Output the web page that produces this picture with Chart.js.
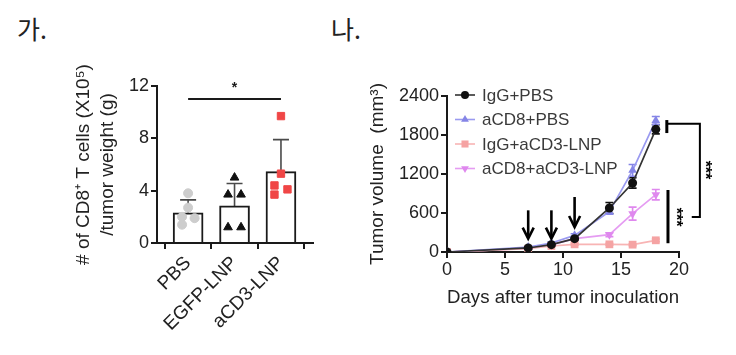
<!DOCTYPE html>
<html><head><meta charset="utf-8">
<script src="https://cdn.jsdelivr.net/npm/chart.js@4.4.1/dist/chart.umd.min.js"></script>
<style>
html,body{margin:0;padding:0;background:#fff;width:736px;height:355px;overflow:hidden;}
.lbl{position:absolute;font-family:"Noto Sans CJK KR";font-size:25px;color:#222;line-height:1;}
#c1{position:absolute;left:0;top:0;}
#c2{position:absolute;left:330px;top:0;}
</style></head><body>
<div class="lbl" style="left:17px;top:16px">가.</div>
<div class="lbl" style="left:331px;top:16px">나.</div>
<canvas id="c1" width="330" height="355"></canvas>
<canvas id="c2" width="406" height="355"></canvas>
<script>
// ---------- Panel 가 data ----------
const groupsA = ['PBS', 'EGFP-LNP', 'aCD3-LNP'];
const meanA = [2.3, 2.85, 5.45];
const sdA = [1.0, 1.7, 2.45];
const ptsPBS = [3.8, 2.7, 2.0, 1.9, 1.4];
const jitPBS = [0, 0, -0.13, 0.14, -0.13];
const ptsEGFP = [5.0, 3.7, 3.7, 1.2, 1.2];
const jitEGFP = [0, -0.14, 0.14, -0.14, 0.14];
const ptsACD3 = [9.7, 5.3, 4.4, 3.7, 4.1];
const jitACD3 = [0, 0, -0.14, -0.14, 0.14];
const ticksAy = [0, 4, 8, 12];
const sigA = { from: 1, to: 3, y: 11, label: '*' };

// ---------- Panel 나 data ----------
const days = [0, 7, 9, 11, 14, 16, 18];
const seriesNames = ['IgG+PBS', 'aCD8+PBS', 'IgG+aCD3-LNP', 'aCD8+aCD3-LNP'];
const iggPbs = [0, 62, 113, 205, 677, 1062, 1887];
const iggPbsErr = [0, 10, 15, 20, 85, 80, 70];
const acd8Pbs = [0, 77, 138, 256, 620, 1256, 2025];
const acd8PbsErr = [0, 10, 15, 25, 40, 90, 60];
const iggAcd3 = [0, 50, 92, 118, 118, 113, 180];
const iggAcd3Err = [0, 8, 10, 15, 15, 15, 20];
const acd8Acd3 = [0, 55, 110, 205, 267, 590, 882];
const acd8Acd3Err = [0, 8, 12, 20, 30, 100, 80];
const doseDays = [7, 9, 11];
const arrowTop = [641, 641, 846];
const arrowTip = [205, 205, 385];
const ticksBx = [0, 5, 10, 15, 20];
const ticksBy = [0, 600, 1200, 1800, 2400];

const FAM = '"Liberation Sans", Arial, Helvetica, sans-serif';
const INK = '#1a1a1a';

// ---------- Panel 가 ----------
const errPluginA = {
  id: 'errA',
  beforeDatasetsDraw(chart) {
    const { ctx, scales: { x, y } } = chart;
    ctx.save();
    ctx.strokeStyle = '#4a4a4a';
    ctx.lineWidth = 1.6;
    meanA.forEach((m, i) => {
      const px = x.getPixelForValue(i + 1);
      const top = y.getPixelForValue(m + sdA[i]);
      const bot = y.getPixelForValue(Math.max(0, m - sdA[i]));
      ctx.beginPath();
      ctx.moveTo(px, bot); ctx.lineTo(px, top);
      ctx.moveTo(px - 8, top); ctx.lineTo(px + 8, top);
      ctx.stroke();
    });
    ctx.restore();
  },
  afterDraw(chart) {
    const { ctx, scales: { x, y } } = chart;
    ctx.save();
    ctx.strokeStyle = INK; ctx.lineWidth = 2;
    const yy = y.getPixelForValue(sigA.y);
    const x1 = x.getPixelForValue(sigA.from), x2 = x.getPixelForValue(sigA.to);
    ctx.beginPath(); ctx.moveTo(x1, yy); ctx.lineTo(x2, yy); ctx.stroke();
    ctx.fillStyle = INK; ctx.font = 'bold 14px ' + FAM;
    ctx.textAlign = 'center'; ctx.textBaseline = 'middle';
    ctx.fillText(sigA.label, (x1 + x2) / 2, yy - 11);
    ctx.restore();
  }
};

new Chart(document.getElementById('c1'), {
  type: 'bar',
  data: {
    datasets: [
      { type: 'bar', data: groupsA.map((g, i) => ({ x: i + 1, y: meanA[i] })), backgroundColor: 'rgba(255,255,255,1)', borderColor: INK, borderWidth: 2, barThickness: 30, borderSkipped: 'start', order: 2 },
      { type: 'scatter', data: ptsPBS.map((v, i) => ({ x: 1 + jitPBS[i], y: v })), pointStyle: 'circle', pointRadius: 4.5, backgroundColor: '#cdcdcd', borderColor: '#cdcdcd', order: 1 },
      { type: 'scatter', data: ptsEGFP.map((v, i) => ({ x: 2 + jitEGFP[i], y: v })), pointStyle: 'triangle', pointRadius: 5, backgroundColor: '#111', borderColor: '#111', order: 1 },
      { type: 'scatter', data: ptsACD3.map((v, i) => ({ x: 3 + jitACD3[i], y: v })), pointStyle: 'rect', pointRadius: 5.2, backgroundColor: '#f04646', borderColor: '#f04646', order: 1 }
    ]
  },
  options: {
    responsive: false, animation: false,
    layout: { padding: { top: 86, right: 17, left: 0, bottom: 0 } },
    plugins: { legend: { display: false }, tooltip: { enabled: false } },
    scales: {
      x: {
        type: 'linear', min: 0.33, max: 3.69, offset: false,
        grid: { display: true, drawOnChartArea: false, drawTicks: true, tickLength: 6, color: INK, lineWidth: 2 },
        border: { display: true, color: INK, width: 2 },
        afterBuildTicks: s => { s.ticks = groupsA.map((g, i) => ({ value: i + 1 })); },
        ticks: { callback: v => groupsA[Math.round(v) - 1], maxRotation: 45, minRotation: 45, autoSkip: false, font: { size: 19, family: FAM }, color: '#222', padding: 3 },
        afterFit: s => { s.height = 112; }
      },
      y: {
        min: 0, max: 12,
        grid: { display: true, drawOnChartArea: false, drawTicks: true, tickLength: 6, color: INK, lineWidth: 2 },
        border: { display: true, color: INK, width: 2 },
        afterBuildTicks: s => { s.ticks = ticksAy.map(v => ({ value: v })); },
        ticks: { font: { size: 18, family: FAM }, color: '#222', padding: 2, callback: v => String(v) },
        title: { display: true, text: ['# of CD8\u207A T cells (X10\u2075)', '/tumor weight (g)'], font: { size: 19, family: FAM, lineHeight: 1.25 }, color: '#222', padding: { top: 72, bottom: 0 } },
        afterFit: s => { s.width = 157; }
      }
    }
  },
  plugins: [errPluginA]
});

// ---------- Panel 나 ----------
const colorsB = ['#111111', '#8585e6', '#f5a3a3', '#df88ee'];
const lineColorsB = ['#333333', '#9a9af0', '#f8b4b4', '#e59cf2'];
const stylesB = ['circle', 'triangle', 'rect', 'triangle'];
const rotB = [0, 0, 0, 180];
const radB = [4.5, 5, 5.5, 5];
const valsB = [iggPbs, acd8Pbs, iggAcd3, acd8Acd3];
const errsB = [iggPbsErr, acd8PbsErr, iggAcd3Err, acd8Acd3Err];

function drawMarker(ctx, style, rot, r, x, y, color) {
  ctx.save();
  ctx.fillStyle = color; ctx.strokeStyle = color;
  ctx.translate(x, y); ctx.rotate(rot * Math.PI / 180);
  ctx.beginPath();
  if (style === 'circle') { ctx.arc(0, 0, r, 0, Math.PI * 2); }
  else if (style === 'rect') { const s = r * Math.SQRT1_2; ctx.rect(-s, -s, 2 * s, 2 * s); }
  else { ctx.moveTo(0, -r); ctx.lineTo(r * 0.866, r * 0.5); ctx.lineTo(-r * 0.866, r * 0.5); ctx.closePath(); }
  ctx.fill();
  ctx.restore();
}

const pluginB = {
  id: 'annB',
  beforeDatasetsDraw(chart) {
    const { ctx, scales: { x, y } } = chart;
    ctx.save();
    ctx.lineWidth = 1.6;
    valsB.forEach((vals, k) => {
      ctx.strokeStyle = colorsB[k];
      vals.forEach((v, i) => {
        const e = errsB[k][i];
        if (!e) return;
        const px = x.getPixelForValue(days[i]);
        const t = y.getPixelForValue(v + e), b = y.getPixelForValue(v - e);
        ctx.beginPath();
        ctx.moveTo(px, t); ctx.lineTo(px, b);
        ctx.moveTo(px - 4, t); ctx.lineTo(px + 4, t);
        ctx.moveTo(px - 4, b); ctx.lineTo(px + 4, b);
        ctx.stroke();
      });
    });
    ctx.restore();
  },
  afterDraw(chart) {
    const { ctx, scales: { x, y }, chartArea } = chart;
    ctx.save();
    // dosing arrows
    ctx.strokeStyle = '#000'; ctx.lineWidth = 2.6; ctx.lineCap = 'butt';
    doseDays.forEach((d, i) => {
      const px = x.getPixelForValue(d);
      const t = y.getPixelForValue(arrowTop[i]), b = y.getPixelForValue(arrowTip[i]);
      ctx.beginPath(); ctx.moveTo(px, t); ctx.lineTo(px, b - 1); ctx.stroke();
      ctx.beginPath(); ctx.moveTo(px - 5.5, b - 11); ctx.lineTo(px, b); ctx.lineTo(px + 5.5, b - 11); ctx.stroke();
    });
    // bracket 1
    const xb1 = x.getPixelForValue(18.95), xb2 = x.getPixelForValue(21.8), xb3 = x.getPixelForValue(21.1);
    ctx.lineWidth = 3;
    ctx.beginPath(); ctx.moveTo(xb1, y.getPixelForValue(1830)); ctx.lineTo(xb1, y.getPixelForValue(2030)); ctx.stroke();
    ctx.lineWidth = 2;
    ctx.beginPath();
    ctx.moveTo(xb1, y.getPixelForValue(1974));
    ctx.lineTo(xb2, y.getPixelForValue(1974));
    ctx.lineTo(xb2, y.getPixelForValue(538));
    ctx.lineTo(xb3, y.getPixelForValue(538));
    ctx.stroke();
    // bracket 2
    ctx.lineWidth = 3;
    const xv = x.getPixelForValue(19.05);
    ctx.beginPath(); ctx.moveTo(xv, y.getPixelForValue(954)); ctx.lineTo(xv, y.getPixelForValue(135)); ctx.stroke();
    // stars
    ctx.fillStyle = '#000'; ctx.font = 'bold 16px ' + FAM; ctx.textAlign = 'center'; ctx.textBaseline = 'middle';
    [[22.45, 1262], [19.95, 538]].forEach(([dx, vy]) => {
      ctx.save();
      ctx.translate(x.getPixelForValue(dx), y.getPixelForValue(vy));
      ctx.rotate(Math.PI / 2);
      ctx.fillText('***', 0, 3);
      ctx.restore();
    });
    // legend
    ctx.font = '17px ' + FAM; ctx.textAlign = 'left'; ctx.textBaseline = 'middle';
    seriesNames.forEach((n, k) => {
      const ly = chartArea.top - 1 + 24.5 * k;
      const mx = chartArea.left + 18;
      ctx.strokeStyle = lineColorsB[k]; ctx.lineWidth = 1.6;
      ctx.beginPath(); ctx.moveTo(mx - 10, ly); ctx.lineTo(mx + 10, ly); ctx.stroke();
      drawMarker(ctx, stylesB[k], rotB[k], radB[k] - 0.5, mx, ly, colorsB[k]);
      ctx.fillStyle = '#3a3a3a';
      ctx.fillText(n, mx + 17, ly + 1);
    });
    ctx.restore();
  }
};

new Chart(document.getElementById('c2'), {
  type: 'line',
  data: {
    datasets: seriesNames.map((n, k) => ({
      label: n,
      data: days.map((d, i) => ({ x: d, y: valsB[k][i] })),
      borderColor: lineColorsB[k], backgroundColor: colorsB[k],
      pointBorderColor: colorsB[k], pointBackgroundColor: colorsB[k],
      pointStyle: stylesB[k], pointRotation: rotB[k], pointRadius: radB[k], pointBorderWidth: 0,
      borderWidth: 1.7, tension: 0, fill: false
    }))
  },
  options: {
    responsive: false, animation: false,
    layout: { padding: { top: 96, right: 57, left: 0, bottom: 0 } },
    plugins: { legend: { display: false }, tooltip: { enabled: false } },
    scales: {
      x: {
        type: 'linear', min: 0, max: 20,
        grid: { display: true, drawOnChartArea: false, drawTicks: true, tickLength: 6, color: INK, lineWidth: 2 },
        border: { display: true, color: INK, width: 2 },
        afterBuildTicks: s => { s.ticks = ticksBx.map(v => ({ value: v })); },
        ticks: { font: { size: 18, family: FAM }, color: '#222', padding: 1, maxRotation: 0, callback: v => String(v) },
        title: { display: true, text: 'Days after tumor inoculation', font: { size: 19, family: FAM, lineHeight: 1.25 }, color: '#222', padding: { top: 0, bottom: 45 } },
        afterFit: s => { s.height = 103; }
      },
      y: {
        min: 0, max: 2400,
        grid: { display: true, drawOnChartArea: false, drawTicks: true, tickLength: 6, color: INK, lineWidth: 2 },
        border: { display: true, color: INK, width: 2 },
        afterBuildTicks: s => { s.ticks = ticksBy.map(v => ({ value: v })); },
        ticks: { font: { size: 18, family: FAM }, color: '#222', padding: 2, callback: v => String(v) },
        title: { display: true, text: 'Tumor volume  (mm\u00B3)', font: { size: 19, family: FAM, lineHeight: 1.25 }, color: '#222', padding: { top: 36, bottom: 0 } },
        afterFit: s => { s.width = 117; }
      }
    }
  },
  plugins: [pluginB]
});
</script>
</body></html>
